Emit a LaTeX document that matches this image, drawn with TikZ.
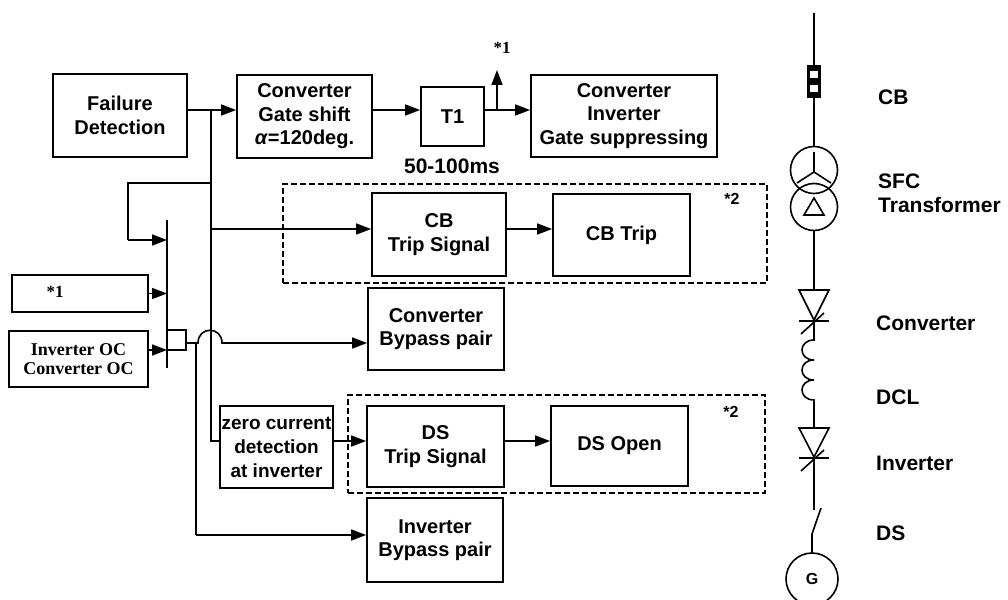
\documentclass[tikz,border=0pt]{standalone}
\usepackage{fontspec}
\setmainfont{Liberation Sans}
\newfontfamily\serifb{Liberation Serif}
\usetikzlibrary{arrows.meta}
\begin{document}
\begin{tikzpicture}[x=1pt,y=-1pt,
  box/.style={draw, line width=1.8pt, inner sep=0pt, align=center,
    font=\fontsize{20}{23.5}\selectfont\bfseries},
  dbox/.style={draw, line width=1.5pt, dash pattern=on 6pt off 3pt, inner sep=0pt},
  arr/.style={line width=1.6pt, -{Triangle[length=15pt,width=11pt]}},
  ln/.style={line width=1.6pt},
  lab/.style={font=\fontsize{21}{24}\selectfont\bfseries, anchor=west, align=left, inner sep=0pt},
  star/.style={font=\serifb\bfseries\fontsize{17}{18}\selectfont, inner sep=0pt},
  star2/.style={font=\fontsize{16}{18}\selectfont\bfseries, inner sep=0pt}
]
\useasboundingbox (0,0) rectangle (1008,599);

% dashed groups
\node[dbox, minimum width=484pt, minimum height=99pt] (d1) at (525,233.5) {};
\node[dbox, minimum width=417pt, minimum height=98pt] (d2) at (556.5,444) {};

% blocks
\node[box, minimum width=134pt, minimum height=83pt] (fd) at (120,115.5) {Failure\\Detection};
\node[box, minimum width=135pt, minimum height=83pt] (gs) at (304.5,116.5) {Converter\\Gate shift\\\textit{α}=120deg.};
\node[box, minimum width=63pt, minimum height=59pt] (t1) at (452.5,116.5) {T1};
\node[box, minimum width=186pt, minimum height=82pt] (sup) at (624,116) {Converter\\Inverter\\Gate suppressing};
\node[box, minimum width=134pt, minimum height=83pt] (cbs) at (439,234.5) {CB\\Trip Signal};
\node[box, minimum width=137pt, minimum height=82pt] (cbt) at (621.5,235) {CB Trip};
\node[box, minimum width=136pt, minimum height=82pt] (cbp) at (436,329) {Converter\\Bypass pair};
\node[box, minimum width=137pt, minimum height=81pt] (dss) at (435.5,446.5) {DS\\Trip Signal};
\node[box, minimum width=137pt, minimum height=80pt] (dso) at (619.5,446) {DS Open};
\node[box, minimum width=136pt, minimum height=84pt] (ibp) at (435,540) {Inverter\\Bypass pair};
\node[box, minimum width=113pt, minimum height=82pt, font=\fontsize{19}{24}\selectfont\bfseries] (zc) at (276.5,447) {zero current\\detection\\at inverter};
\node[box, minimum width=136pt, minimum height=37pt] (s1) at (80,293.5) {};
\node[star] (s1t) at (55,292) {*1};
\node[box, minimum width=139pt, minimum height=56pt, font=\serifb\bfseries\fontsize{18}{19}\selectfont] (oc) at (78.5,359) {Inverter OC\\Converter OC};
\node[draw, line width=1.6pt, minimum width=19pt, minimum height=20pt, inner sep=0pt] (orq) at (176.5,340) {};

\node[star2] (st2a) at (732,199) {*2};
\node[star2] (st2b) at (731,412) {*2};
\node[star] (st1) at (502,48) {*1};
\node[font=\fontsize{21}{24}\selectfont\bfseries, inner sep=0pt] (ms) at (452,166) {50-100ms};

% junction coordinates
\coordinate (jA) at (211,110);
\coordinate (jB) at (211,183);
\coordinate (jC) at (211,229);
\coordinate (jD) at (211,441);
\coordinate (lp1) at (128,183);
\coordinate (lp2) at (128,240);
\coordinate (barT) at (167,220);
\coordinate (barB) at (167,368);
\coordinate (ocin) at (167,350);
\coordinate (jE) at (196,343);
\coordinate (jF) at (196,535);
\coordinate (tap) at (497,110);
\coordinate (tapT) at (497,70);

% connectors
\draw[arr] (fd.east |- jA) -- (gs.west |- jA);
\draw[arr] (gs.east |- jA) -- (t1.west |- jA);
\draw[arr] (t1.east |- jA) -- (sup.west |- jA);
\draw[arr] (tap) -- (tapT);
\draw[ln] (jA) -- (jD) -- (zc.west |- jD);
\draw[ln] (jB) -- (lp1) -- (lp2);
\draw[arr] (lp2) -- (barT |- lp2);
\draw[arr] (jC) -- (cbs.west |- jC);
\draw[ln] (barT) -- (barB);
\draw[arr] (s1.east) -- (barT |- s1.east);
\draw[arr] (oc.east |- ocin) -- (ocin);
\draw[ln] (orq.east |- jE) -- (jE) -- (jF);
\draw[arr] (jF) -- (ibp.west |- jF);
\draw[arr] (jE) -- (198,343) .. controls (198,326) and (222,326) .. (222,343) -- (cbp.west |- jE);
\draw[arr] (cbs.east |- jC) -- (cbt.west |- jC);
\draw[arr] (zc.east |- jD) -- (dss.west |- jD);
\draw[arr] (dss.east |- jD) -- (dso.west |- jD);

% single line circuit
\begin{scope}[ln]
\draw (814,13) -- (814,65);
\fill (807,65) rectangle (821,98);
\fill[white] (810,71) rectangle (818,78);
\fill[white] (810,85) rectangle (818,92);
\draw (814,98) -- (814,146.5);
\draw (814,170) circle[radius=23.5];
\draw (814,207) circle[radius=23.5];
\draw (814,172) -- (814,152) (814,172) -- (797,183) (814,172) -- (831,183);
\draw (814,198) -- (804,215) -- (824,215) -- cycle;
\draw (814,230.5) -- (814,290);
\draw (799,290) -- (829,290) -- (814,320) -- cycle;
\draw (799,321) -- (829,321);
\draw (801,334) -- (824,313);
\draw (814,321) -- (814,340) .. controls (798,340) and (798,360) .. (814,360)
  .. controls (798,360) and (798,380) .. (814,380)
  .. controls (798,380) and (798,400) .. (814,400) -- (814,428);
\draw (799,428) -- (829,428) -- (814,457) -- cycle;
\draw (799,458) -- (829,458);
\draw (801,471) -- (824,450);
\draw (814,458) -- (814,510);
\draw (812,553) -- (812,534) -- (821,508);
\draw (812,579) circle[radius=26];
\end{scope}
\node[font=\fontsize{16}{18}\selectfont\bfseries] (g) at (812,579) {G};

\node[lab] (lcb) at (878,97) {CB};
\node[lab] (lsfc) at (878,193) {SFC\\Transformer};
\node[lab] (lconv) at (876,323) {Converter};
\node[lab] (ldcl) at (876,397) {DCL};
\node[lab] (linv) at (876,463) {Inverter};
\node[lab] (lds) at (876,533) {DS};
\end{tikzpicture}
\end{document}
